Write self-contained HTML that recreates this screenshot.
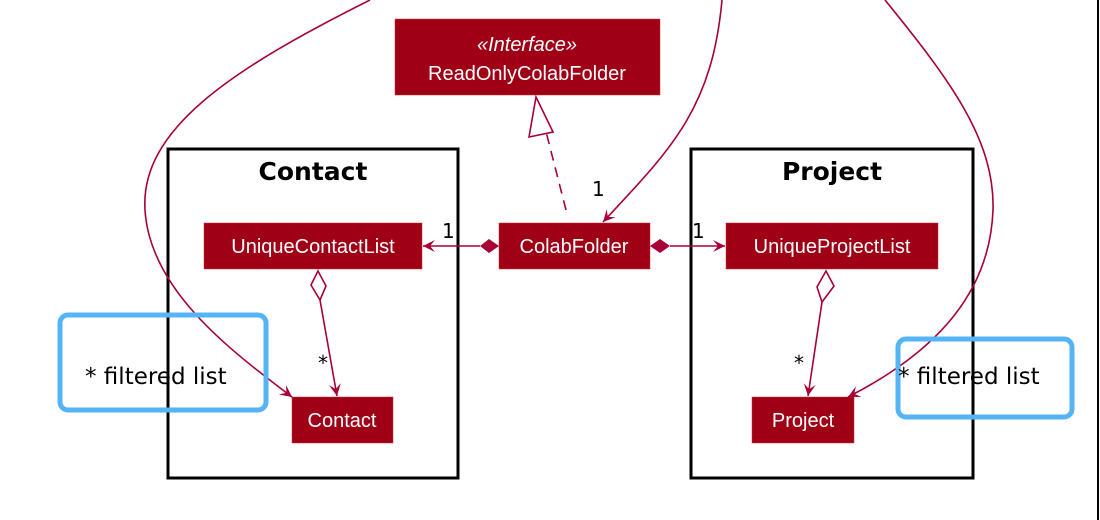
<!DOCTYPE html>
<html><head><meta charset="utf-8"><style>
body{margin:0;background:#fff;width:1100px;height:520px;overflow:hidden}
svg{display:block}
text{font-family:"DejaVu Sans","Liberation Sans",sans-serif}
.n{font-family:"Liberation Sans",sans-serif;font-size:20px;fill:#fff}
</style></head><body>
<svg width="1100" height="520" viewBox="0 0 1100 520">
<defs>
<marker id="a" markerWidth="14" markerHeight="14" refX="12" refY="7" orient="auto" markerUnits="userSpaceOnUse">
<path d="M0,1 L12,7 L0,13 L5,7 Z" fill="#A80036"/></marker>
</defs>
<g stroke="#000" stroke-width="3" fill="none">
<rect x="168" y="149" width="290" height="329"/>
<rect x="691" y="149" width="282" height="329"/>
</g>
<line x1="1098" y1="0" x2="1098" y2="520" stroke="#000" stroke-width="2"/>
<text x="313" y="180" font-size="25" font-weight="bold" text-anchor="middle">Contact</text>
<text x="832" y="180" font-size="25" font-weight="bold" text-anchor="middle">Project</text>
<g fill="#A00016" stroke="#c33">
<rect x="395" y="19" width="265" height="76" stroke-width="0.5"/>
<rect x="204" y="223" width="218" height="46" stroke-width="0.5"/>
<rect x="499" y="223" width="151" height="46" stroke-width="0.5"/>
<rect x="726" y="223" width="212" height="46" stroke-width="0.5"/>
<rect x="292" y="397" width="101" height="46" stroke-width="0.5"/>
<rect x="752" y="397" width="102" height="46" stroke-width="0.5"/>
</g>
<text class="n" x="527" y="51" text-anchor="middle" font-style="italic">«Interface»</text>
<text class="n" x="527" y="80" text-anchor="middle">ReadOnlyColabFolder</text>
<text class="n" x="313" y="253" text-anchor="middle">UniqueContactList</text>
<text class="n" x="574" y="253" text-anchor="middle">ColabFolder</text>
<text class="n" x="832" y="253" text-anchor="middle">UniqueProjectList</text>
<text class="n" x="342" y="427" text-anchor="middle">Contact</text>
<text class="n" x="803" y="427" text-anchor="middle">Project</text>
<g stroke="#A80036" stroke-width="1.6" fill="none">
<path d="M370,0 C230,70 140,130 145,210 C150,290 230,350 292,397" marker-end="url(#a)"/>
<path d="M722,0 C712,110 670,150 603,222" marker-end="url(#a)"/>
<path d="M885,0 C950,80 995,140 993,210 C990,290 940,350 848,397" marker-end="url(#a)"/>
<line x1="480" y1="246" x2="423" y2="246" marker-end="url(#a)"/>
<line x1="670" y1="246" x2="725" y2="246" marker-end="url(#a)"/>
<path d="M566,210 L541,112" stroke-dasharray="10,7"/>
<path d="M529,137 L536,97 L553,132 Z" fill="#fff"/>
<path d="M318,271 L326,286 L320,300 L311,285 Z" fill="#fff"/>
<line x1="320" y1="300" x2="337" y2="396" marker-end="url(#a)"/>
<path d="M826,271 L834,286 L822,302 L817,287 Z" fill="#fff"/>
<line x1="822" y1="302" x2="808" y2="396" marker-end="url(#a)"/>
</g>
<path d="M499,246 L489,239 L480,246 L489,253 Z" fill="#A80036"/>
<path d="M650,246 L660,239 L670,246 L660,253 Z" fill="#A80036"/>
<g font-family="Liberation Sans,sans-serif" font-size="20" fill="#000">
<text x="442" y="238">1</text>
<text x="692" y="238">1</text>
<text x="592" y="196">1</text>
<text x="318" y="370">*</text>
<text x="794" y="370">*</text>
</g>
<g stroke="#54B4F5" stroke-width="5" fill="none">
<rect x="60" y="315" width="206" height="95" rx="8"/>
<rect x="898" y="339" width="174" height="78" rx="8"/>
</g>
<text x="85" y="384" font-size="23">* filtered list</text>
<text x="898" y="384" font-size="23">* filtered list</text>
</svg>
</body></html>
